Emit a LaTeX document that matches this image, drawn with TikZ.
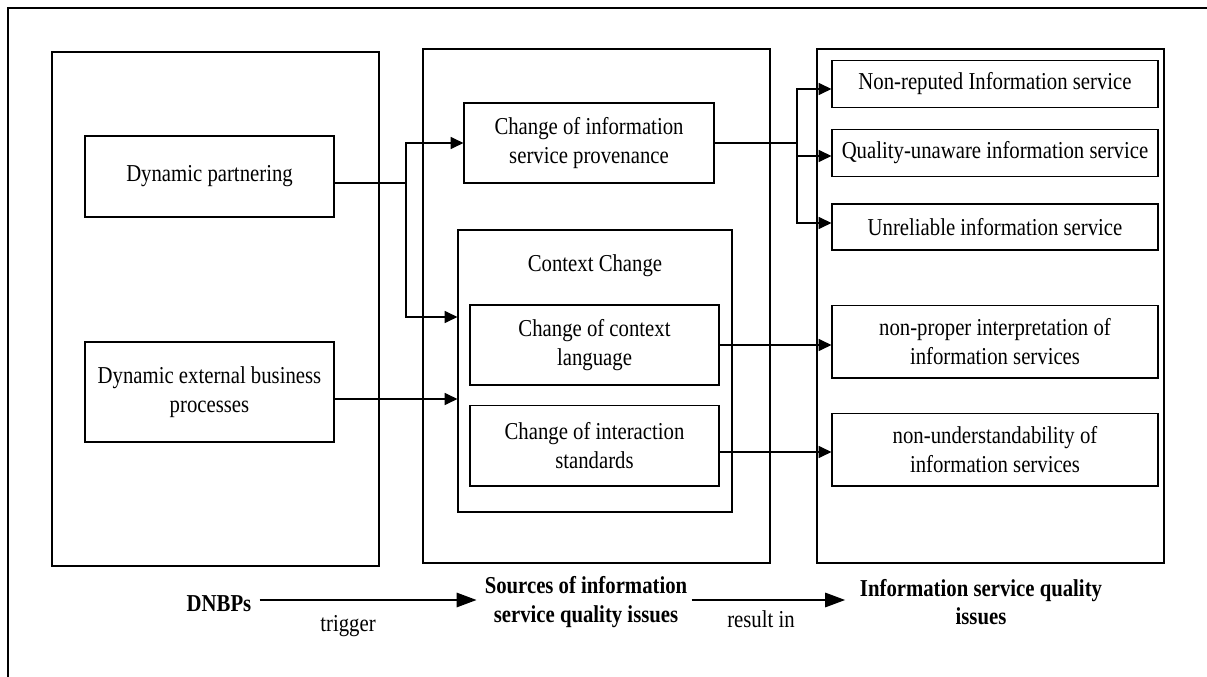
\documentclass[tikz,border=0pt]{standalone}
\usepackage{fontspec}
\setmainfont{Liberation Serif}[FakeStretch=0.855]
\usetikzlibrary{arrows.meta}
\tikzset{
  frame/.style={draw, line width=0.9pt, inner sep=0pt},
  box/.style={draw, line width=0.9pt, align=center, inner sep=0pt},
  dim/.style 2 args={minimum width=#1*0.75pt, minimum height=#2*0.75pt},
  link/.style={line width=0.9pt},
  arr/.style={link, -{Triangle[length=9.5pt,width=9pt]}},
  bigarr/.style={link, -{Triangle[length=15pt,width=11pt]}},
  caption/.style={font=\fontsize{18.2pt}{21.3pt}\selectfont\bfseries, align=center, inner sep=0pt},
  note/.style={inner sep=0pt}
}
\begin{document}
\begin{tikzpicture}[x=0.75pt,y=-0.75pt,
  every node/.style={font=\fontsize{18.2pt}{21.3pt}\selectfont}]
\useasboundingbox (0,0) rectangle (1207,677);

% open outer frame (top and left edges)
\draw[link] (1207,8) -- (8,8) -- (8,677);

% three column panels
\node[frame, dim={327}{514}] (lp) at (215.5,309) {};
\node[frame, dim={347}{514}] (mp) at (596.5,306) {};
\node[frame, dim={347}{514}] (rp) at (990.5,306) {};

% DNBPs
\node[box, dim={249}{81}]  (dp)   at (209.5,176.5) {Dynamic partnering};
\node[box, dim={249}{100}] (debp) at (209.5,392)   {Dynamic external business\\processes};

% sources of quality issues
\node[box, dim={250}{80}]  (cip)  at (589,143)     {Change of information\\service provenance};
\node[frame, dim={274}{282}] (ctx) at (595,371) {};
\node[note] (ctxl) at (595,266) {Context Change};
\node[box, dim={249}{80}]  (ccl)  at (594.5,345)   {Change of context\\language};
\node[box, dim={249}{80.5}] (cis) at (594.5,445.75) {Change of interaction\\standards};

% quality issues
\node[box, dim={326}{46.6}] (nr) at (995,84)     {Non-reputed Information service};
\node[box, dim={326}{47}]   (qu) at (995,153)    {Quality-unaware information service};
\node[box, dim={326}{46}]   (ur) at (995,227)    {Unreliable information service};
\node[box, dim={326}{72.5}] (np) at (995,341.75) {non-proper interpretation of\\information services};
\node[box, dim={326}{72.6}] (nu) at (995,449.7)  {non-understandability of\\information services};

% junction columns
\coordinate (jn) at (406,0);
\coordinate (sp) at (797,0);

% DNBPs -> sources
\draw[arr] (dp.east |- 0,183) -| (jn |- cip.west) -- (cip.west);
\draw[arr] (jn |- 0,183) |- (ctx.west |- 0,317);
\draw[arr] (debp.east |- 0,399) -- (ctx.west |- 0,399);

% sources -> issues
\draw[arr] (cip.east) -| (sp |- 0,89) -- (nr.west |- 0,89);
\draw[arr] (sp |- cip.east) |- (qu.west |- 0,156);
\draw[arr] (sp |- cip.east) |- (ur.west |- 0,223);
\draw[arr] (ccl.east) -- (np.west |- ccl.east);
\draw[arr] (cis.east |- 0,452) -- (nu.west |- 0,452);

% legend row
\node[caption] (dnbp) at (219,604) {DNBPs};
\node[caption] (src)  at (586,602) {Sources of information\\service quality issues};
\node[caption] (isq)  at (981,602) {Information service quality\\issues};
\draw[bigarr] ([xshift=6pt]dnbp.east |- 0,600) -- ([xshift=-6pt]src.west |- 0,600);
\draw[bigarr] ([xshift=3pt]src.east |- 0,600) -- ([xshift=-11pt]isq.west |- 0,600);
\node[note] (trg) at (348,626) {trigger};
\node[note] (res) at (761,619) {result in};
\end{tikzpicture}
\end{document}
